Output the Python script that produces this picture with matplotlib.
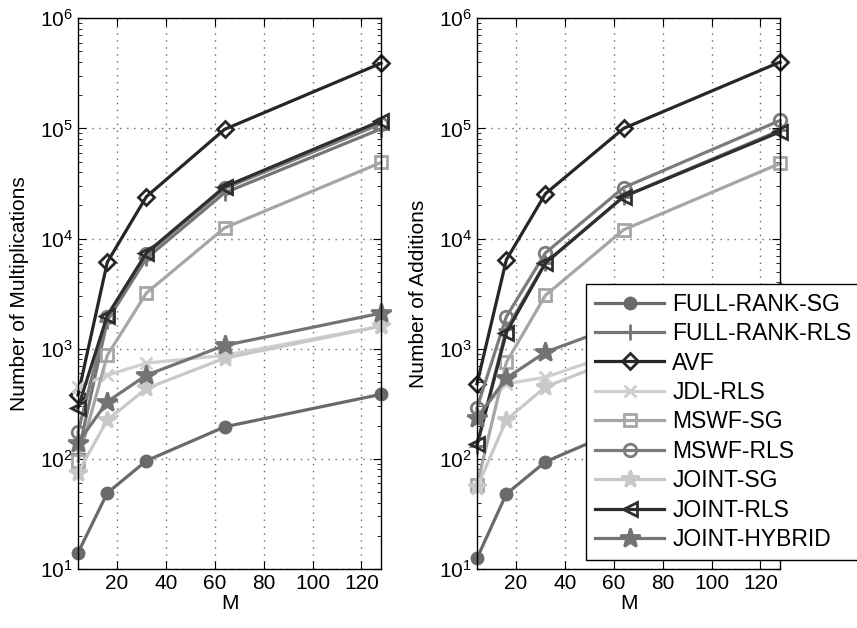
import matplotlib
matplotlib.use("Agg")
import matplotlib.pyplot as plt
from matplotlib.ticker import LogLocator, NullFormatter

plt.rcParams['font.family'] = ['Liberation Sans', 'DejaVu Sans']

M = [4, 16, 32, 64, 128]

labels = ["FULL-RANK-SG", "FULL-RANK-RLS", "AVF", "JDL-RLS", "MSWF-SG",
          "MSWF-RLS", "JOINT-SG", "JOINT-RLS", "JOINT-HYBRID"]

# number of multiplications (left panel)
full_rank_sg_mul = [14, 49, 96, 195, 385]
full_rank_rls_mul = [110, 1800, 6600, 26000, 99000]
avf_mul = [380, 6100, 24000, 98000, 390000]
jdl_rls_mul = [450, 575, 740, 870, 1600]
mswf_sg_mul = [95, 870, 3200, 12500, 49000]
mswf_rls_mul = [175, 1950, 7200, 28500, 110000]
joint_sg_mul = [75, 225, 435, 820, 1600]
joint_rls_mul = [290, 2000, 7400, 29500, 117000]
joint_hybrid_mul = [140, 330, 575, 1070, 2100]

# number of additions (right panel)
full_rank_sg_add = [12.5, 48, 94, 190, 380]
full_rank_rls_add = [130, 1500, 6000, 24000, 96000]
avf_add = [480, 6400, 25500, 100000, 400000]
jdl_rls_add = [250, 480, 550, 960, 1700]
mswf_sg_add = [58, 750, 3050, 12000, 48000]
mswf_rls_add = [290, 1950, 7400, 29000, 118000]
joint_sg_add = [55, 225, 450, 850, 1600]
joint_rls_add = [135, 1400, 6000, 24000, 93000]
joint_hybrid_add = [235, 540, 930, 1700, 3300]

mul = [full_rank_sg_mul, full_rank_rls_mul, avf_mul, jdl_rls_mul, mswf_sg_mul,
       mswf_rls_mul, joint_sg_mul, joint_rls_mul, joint_hybrid_mul]
add = [full_rank_sg_add, full_rank_rls_add, avf_add, jdl_rls_add, mswf_sg_add,
       mswf_rls_add, joint_sg_add, joint_rls_add, joint_hybrid_add]

# (color, marker, markersize, filled)
styles = [
    ("#6a6a6a", "o", 8, True),
    ("#767676", "+", 11, True),
    ("#262626", "D", 8, False),
    ("#cfcfcf", "x", 8, True),
    ("#a6a6a6", "s", 8, False),
    ("#7c7c7c", "o", 9, False),
    ("#c8c8c8", "*", 13, True),
    ("#2e2e2e", "<", 10, False),
    ("#747474", "*", 15, True),
]

fig = plt.figure(figsize=(8.57, 6.28), dpi=100)
ax1 = fig.add_axes([0.091, 0.094, 0.3536, 0.877])
ax2 = fig.add_axes([0.5566, 0.094, 0.3536, 0.877])

handles = []
for ax, data, ylab in [(ax1, mul, "Number of Multiplications"),
                       (ax2, add, "Number of Additions")]:
    for vals, (c, mk, ms, filled), lab in zip(data, styles, labels):
        h, = ax.plot(M, vals, color=c, marker=mk, markersize=ms, linewidth=2.3,
                     markeredgewidth=2.0,
                     markerfacecolor=c if filled else "none",
                     markeredgecolor=c, label=lab, clip_on=False)
        if ax is ax1:
            handles.append(h)
    ax.set_yscale("log")
    ax.set_xlim(4, 128)
    ax.set_ylim(10, 1e6)
    ax.set_xticks([20, 40, 60, 80, 100, 120])
    ax.yaxis.set_major_locator(LogLocator(base=10, numticks=10))
    ax.yaxis.set_minor_locator(LogLocator(base=10, subs=range(2, 10), numticks=50))
    ax.yaxis.set_minor_formatter(NullFormatter())
    ax.grid(True, which="major", linestyle=(0, (1, 4)), color="#666666", linewidth=1.0)
    ax.tick_params(which="both", direction="in", top=True, right=True, labelsize=15)
    ax.tick_params(which="major", length=6)
    ax.tick_params(which="minor", length=3)
    ax.set_xlabel("M", fontsize=15, labelpad=1)
    ax.set_ylabel(ylab, fontsize=15, labelpad=8)
    for sp in ax.spines.values():
        sp.set_linewidth(1.0)

leg = fig.legend(handles=handles, loc="lower left", bbox_to_anchor=(0.684, 0.108),
                 bbox_transform=fig.transFigure, borderaxespad=0, fontsize=16.5,
                 handlelength=3.0, handletextpad=0.35, labelspacing=0.28,
                 borderpad=0.4, fancybox=False, framealpha=1, edgecolor="black")
leg.get_frame().set_linewidth(1.0)
leg.set_zorder(10)

fig.savefig("out.png", dpi=100)
